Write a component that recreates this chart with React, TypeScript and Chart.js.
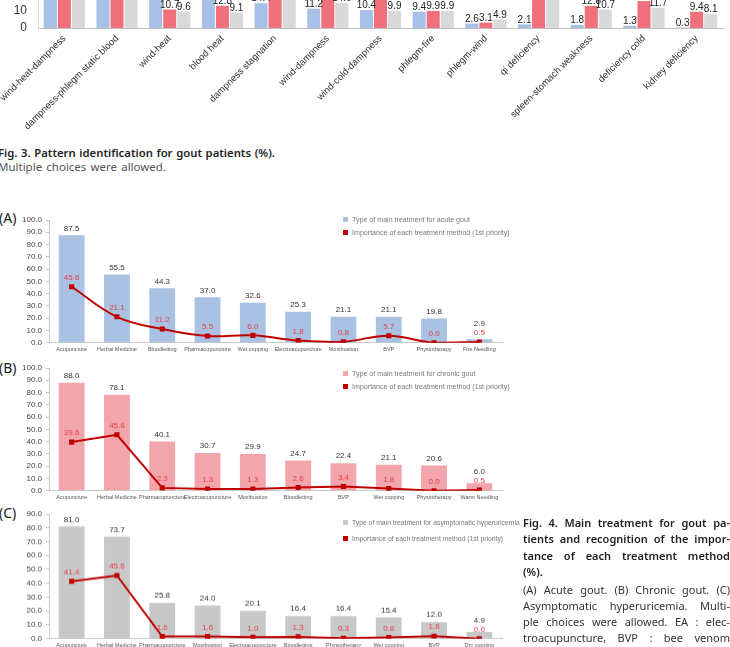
import React, { useEffect, useRef } from "react";
import { Chart, registerables } from "chart.js";

Chart.register(...registerables);

// ---------------- Fig. 3 data (pattern identification, %) ----------------
const patternCategories = [
  "wind-heat-dampness",
  "dampness-phlegm static blood",
  "wind-heat",
  "blood heat",
  "dampness stagnation",
  "wind-dampness",
  "wind-cold-dampness",
  "phlegm-fire",
  "phlegm-wind",
  "qi deficiency",
  "spleen-stomach weakness",
  "deficiency cold",
  "kidney deficiency",
];
const patternBlue = [60.2, 38.0, 37.2, 18.3, 14.4, 11.2, 10.4, 9.4, 2.6, 2.1, 1.8, 1.3, 0.3];
const patternRed = [37.5, 33.3, 10.7, 12.8, 16.4, 18.8, 19.0, 9.9, 3.1, 21.9, 12.8, 15.6, 9.4];
const patternGray = [45.1, 34.4, 9.6, 9.1, 17.2, 14.6, 9.9, 9.9, 4.9, 18.0, 10.7, 11.7, 8.1];
const patternYMax = 40;
const patternYStep = 10;

// ---------------- Fig. 4 (A) acute gout ----------------
const acuteCategories = [
  "Acupuncture", "Herbal Medicine", "Bloodletting", "Pharmacopuncture", "Wet cupping",
  "Electroacupuncture", "Moxibustion", "BVP", "Physiotherapy", "Fire Needling",
];
const acuteTreatment = [87.5, 55.5, 44.3, 37.0, 32.6, 25.3, 21.1, 21.1, 19.8, 2.9];
const acuteImportance = [45.6, 21.1, 11.2, 5.5, 6.0, 1.8, 0.8, 5.7, 0.0, 0.5];
const acuteLegend = ["Type of main treatment for acute gout", "Importance of each treatment method (1st priority)"];

// ---------------- Fig. 4 (B) chronic gout ----------------
const chronicCategories = [
  "Acupuncture", "Herbal Medicine", "Pharmacopuncture", "Electroacupuncture", "Moxibustion",
  "Bloodletting", "BVP", "Wet cupping", "Physiotherapy", "Warm Needling",
];
const chronicTreatment = [88.0, 78.1, 40.1, 30.7, 29.9, 24.7, 22.4, 21.1, 20.6, 6.0];
const chronicImportance = [39.6, 45.6, 2.3, 1.3, 1.3, 2.6, 3.4, 1.8, 0.0, 0.5];
const chronicLegend = ["Type of main treatment for chronic gout", "Importance of each treatment method (1st priority)"];

// ---------------- Fig. 4 (C) asymptomatic hyperuricemia ----------------
const asymCategories = [
  "Acupuncture", "Herbal Medicine", "Pharmacopuncture", "Moxibustion", "Electroacupuncture",
  "Bloodletting", "Physiotherapy", "Wet cupping", "BVP", "Dry cupping",
];
const asymTreatment = [81.0, 73.7, 25.8, 24.0, 20.1, 16.4, 16.4, 15.4, 12.0, 4.9];
const asymImportance = [41.4, 45.6, 1.6, 1.6, 1.0, 1.3, 0.3, 0.8, 1.8, 0.0];
const asymLegend = ["Type of main treatment for asymptomatic hyperuricemia", "Importance of each treatment method (1st priority)"];

const fig3Caption = "Fig. 3. Pattern identification for gout patients (%).";
const fig3Note = "Multiple choices were allowed.";
const fig4CaptionBold = [
  "Fig. 4. Main treatment for gout pa-",
  "tients and recognition of the impor-",
  "tance of each treatment method",
  "(%).",
];
const fig4CaptionNote = [
  "(A) Acute gout. (B) Chronic gout. (C)",
  "Asymptomatic hyperuricemia. Multi-",
  "ple choices were allowed. EA : elec-",
  "troacupuncture, BVP : bee venom",
  "pharmacopuncture.",
];

// ---------------- plugin: value labels above bars / points ----------------
const valueLabels = {
  id: "valueLabels",
  afterDatasetsDraw(chart: any) {
    const ctx = chart.ctx;
    const sets = chart.data.datasets;
    const lineIdx = sets.findIndex((d: any) => d.type === "line");
    const lineLabelY: number[] = [];
    if (lineIdx >= 0) {
      const lm = chart.getDatasetMeta(lineIdx);
      lm.data.forEach((el: any, j: number) => {
        lineLabelY[j] = el.y - sets[lineIdx].labelGap;
      });
    }
    const idx = sets.map((_: any, i: number) => i);
    idx.sort((a: number, b: number) => (sets[a].type === "line" ? 1 : 0) - (sets[b].type === "line" ? 1 : 0));
    ctx.save();
    for (const i of idx) {
      const ds = sets[i];
      if (!ds.labelColor) continue;
      const meta = chart.getDatasetMeta(i);
      ctx.fillStyle = ds.labelColor;
      ctx.font = ds.labelFont;
      ctx.textAlign = "center";
      ctx.textBaseline = "middle";
      meta.data.forEach((el: any, j: number) => {
        const v = ds.data[j];
        if (v == null) return;
        let y = el.y - ds.labelGap;
        // keep bar labels clear of the line label of the same category
        if (ds.type === "bar" && lineLabelY[j] != null && y > lineLabelY[j] - 9) {
          y = lineLabelY[j] - 9;
        }
        ctx.fillText(Number(v).toFixed(1), el.x, y);
      });
    }
    ctx.restore();
  },
};

const zeroPad = (s: any) => {
  s.paddingTop = 0;
  s.paddingBottom = 0;
  s.paddingLeft = 0;
  s.paddingRight = 0;
};

function PatternChart() {
  const ref = useRef<HTMLCanvasElement>(null);
  useEffect(() => {
    const mk = (data: number[], color: string) => ({
      type: "bar",
      data,
      backgroundColor: color,
      barPercentage: 0.93,
      categoryPercentage: 0.8,
      labelColor: "#222",
      labelFont: '10px "Liberation Sans Narrow", "Liberation Sans"',
      labelGap: 4.5,
    });
    const chart = new Chart(ref.current as HTMLCanvasElement, {
      type: "bar",
      data: {
        labels: patternCategories,
        datasets: [mk(patternBlue, "#a7c1e6"), mk(patternRed, "#f0707c"), mk(patternGray, "#d9d9d9")] as any,
      },
      options: {
        responsive: false,
        animation: false,
        layout: { autoPadding: false, padding: { top: 0, right: 7, left: 0, bottom: 0 } },
        plugins: { legend: { display: false }, tooltip: { enabled: false } },
        scales: {
          x: {
            grid: { display: false, drawTicks: false },
            border: { display: true, color: "#bfbfbf", width: 1 },
            ticks: {
              autoSkip: false,
              minRotation: 45,
              maxRotation: 45,
              padding: 5,
              color: "#333",
              font: { family: "Liberation Sans", size: 9.5 },
            },
            afterFit: (s: any) => {
              s.height = 101;
              zeroPad(s);
            },
          },
          y: {
            min: 0,
            max: patternYMax,
            ticks: {
              stepSize: patternYStep,
              autoSkip: false,
              padding: 11,
              color: "#333",
              font: { family: "Liberation Sans", size: 12 },
            },
            grid: { display: false, drawTicks: false },
            border: { display: true, color: "#d9d9d9" },
            afterFit: (s: any) => {
              s.width = 38;
              zeroPad(s);
            },
          },
        },
      } as any,
      plugins: [valueLabels],
    });
    return () => chart.destroy();
  }, []);
  return (
    <canvas
      ref={ref}
      width={730}
      height={170}
      style={{ position: "absolute", left: 0, top: -41, width: 730, height: 170 }}
    />
  );
}

type ComboProps = {
  categories: string[];
  bars: number[];
  line: number[];
  barColor: string;
  yMax: number;
  smooth: boolean;
  top: number;
  areaHeight: number;
};

function ComboChart({ categories, bars, line, barColor, yMax, smooth, top, areaHeight }: ComboProps) {
  const ref = useRef<HTMLCanvasElement>(null);
  const padTop = 12;
  const xh = 13.3;
  const height = padTop + areaHeight + xh;
  useEffect(() => {
    const chart = new Chart(ref.current as HTMLCanvasElement, {
      type: "bar",
      data: {
        labels: categories,
        datasets: [
          {
            type: "line",
            data: line,
            borderColor: "#c00000",
            backgroundColor: "#c00000",
            borderWidth: 2,
            pointStyle: "rect",
            pointRadius: 3.6,
            pointBorderWidth: 0,
            pointBackgroundColor: "#c00000",
            tension: smooth ? 0.4 : 0,
            order: 0,
            labelColor: "#e8424c",
            labelFont: '8px "Liberation Sans"',
            labelGap: 9,
          },
          {
            type: "bar",
            data: bars,
            backgroundColor: barColor,
            barPercentage: 0.57,
            categoryPercentage: 1,
            order: 1,
            labelColor: "#333",
            labelFont: '8px "Liberation Sans"',
            labelGap: 7,
          },
        ] as any,
      },
      options: {
        responsive: false,
        animation: false,
        layout: { autoPadding: false, padding: { top: padTop, right: 20, left: 0, bottom: 0 } },
        plugins: { legend: { display: false }, tooltip: { enabled: false } },
        scales: {
          x: {
            grid: { display: false, drawTicks: false },
            border: { display: true, color: "#c8c8c8", width: 1 },
            ticks: {
              autoSkip: false,
              minRotation: 0,
              maxRotation: 0,
              padding: 3,
              color: "#555",
              font: { family: "Liberation Sans", size: 5.5 },
            },
            afterFit: (s: any) => {
              s.height = xh;
              zeroPad(s);
            },
          },
          y: {
            min: 0,
            max: yMax,
            ticks: {
              stepSize: 10,
              autoSkip: false,
              padding: 4,
              color: "#444",
              font: { family: "Liberation Sans", size: 8 },
              callback: (v: any) => Number(v).toFixed(1),
            },
            grid: { drawOnChartArea: false, drawTicks: true, tickLength: 3, color: "#c8c8c8" },
            border: { display: true, color: "#c8c8c8" },
            afterFit: (s: any) => {
              s.width = 49;
              zeroPad(s);
            },
          },
        },
      } as any,
      plugins: [valueLabels],
    });
    return () => chart.destroy();
  }, []);
  return (
    <canvas
      ref={ref}
      width={522}
      height={height}
      style={{ position: "absolute", left: 0, top: top - padTop, width: 522, height }}
    />
  );
}

function LegendAt({ rows, items, color, size }: { rows: number[]; items: string[]; color: string; size: number }) {
  return (
    <>
      {items.map((t, i) => (
        <div
          key={i}
          style={{
            position: "absolute",
            left: 343,
            top: rows[i] - 5,
            height: 10,
            display: "flex",
            alignItems: "center",
            whiteSpace: "nowrap",
            fontFamily: '"Liberation Sans", sans-serif',
            fontSize: size,
            color: "#777",
          }}
        >
          <span style={{ display: "inline-block", width: 5, height: 5, background: i === 0 ? color : "#c00000", marginRight: 4 }} />
          {t}
        </div>
      ))}
    </>
  );
}

function JustLine({ text, left, centerY, width, justify, style }: any) {
  const words = text.split(" ");
  return (
    <div
      style={{
        position: "absolute",
        left,
        top: centerY - 8,
        height: 16,
        width,
        display: "flex",
        alignItems: "center",
        justifyContent: justify ? "space-between" : "flex-start",
        gap: justify ? 0 : "0.28em",
        whiteSpace: "nowrap",
        ...style,
      }}
    >
      {words.map((w: string, i: number) => (
        <span key={i}>{w}</span>
      ))}
    </div>
  );
}

export default function App() {
  const capFont = '"Noto Sans", sans-serif';
  const boldStyle = { fontFamily: capFont, fontSize: 11, fontWeight: 600, color: "#1e1e1e" };
  const noteStyle = { fontFamily: capFont, fontSize: 11, fontWeight: 400, color: "#333" };
  const fig4Rows = [522, 538.5, 555, 571];
  const fig4NoteRows = [589, 605, 621, 637, 653];
  return (
    <div
      style={{
        position: "absolute",
        left: 0,
        top: 0,
        width: 730,
        height: 647,
        overflow: "hidden",
        background: "#fff",
      }}
    >
      <PatternChart />

      <JustLine text={fig3Caption} left={-2} centerY={152} width={277} justify style={{ ...boldStyle, fontSize: 11.3 }} />
      <JustLine text={fig3Note} left={-2} centerY={166} width={168} justify style={{ ...noteStyle, fontSize: 11.5, color: "#555" }} />

      <div style={{ position: "absolute", left: -1, top: 210, lineHeight: "16px", fontFamily: capFont, fontSize: 14, color: "#222" }}>(A)</div>
      <div style={{ position: "absolute", left: -1, top: 360, lineHeight: "16px", fontFamily: capFont, fontSize: 14, color: "#222" }}>(B)</div>
      <div style={{ position: "absolute", left: -1, top: 505, lineHeight: "16px", fontFamily: capFont, fontSize: 14, color: "#222" }}>(C)</div>

      <ComboChart
        categories={acuteCategories}
        bars={acuteTreatment}
        line={acuteImportance}
        barColor="#a9c1e3"
        yMax={100}
        smooth={true}
        top={220}
        areaHeight={122.7}
      />
      <LegendAt rows={[219.5, 232.5]} items={acuteLegend} color="#a9c1e3" size={7.1} />

      <ComboChart
        categories={chronicCategories}
        bars={chronicTreatment}
        line={chronicImportance}
        barColor="#f2a5aa"
        yMax={100}
        smooth={false}
        top={368}
        areaHeight={122.7}
      />
      <LegendAt rows={[373.7, 386.7]} items={chronicLegend} color="#f2a5aa" size={7.1} />

      <ComboChart
        categories={asymCategories}
        bars={asymTreatment}
        line={asymImportance}
        barColor="#c8c8c8"
        yMax={90}
        smooth={false}
        top={514.3}
        areaHeight={124.4}
      />
      <LegendAt rows={[522.3, 538.3]} items={asymLegend} color="#c8c8c8" size={6.8} />

      {fig4CaptionBold.map((t, i) => (
        <JustLine key={"b" + i} text={t} left={523} centerY={fig4Rows[i]} width={207} justify={i < 3} style={boldStyle} />
      ))}
      {fig4CaptionNote.map((t, i) => (
        <JustLine key={"n" + i} text={t} left={523} centerY={fig4NoteRows[i]} width={207} justify={i < 4} style={noteStyle} />
      ))}
    </div>
  );
}
